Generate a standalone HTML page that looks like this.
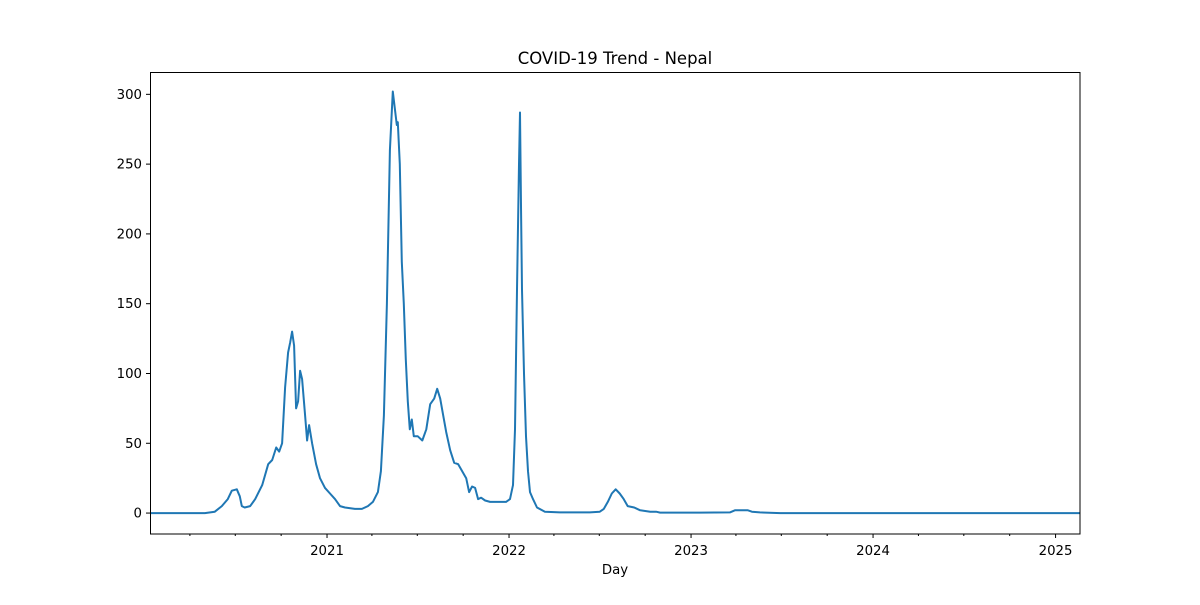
<!DOCTYPE html>
<html><head><meta charset="utf-8"><style>
body{margin:0;background:#fff;width:1200px;height:600px;overflow:hidden}
svg text{font-family:"DejaVu Sans","Liberation Sans",sans-serif;fill:#000}
</style></head><body>
<svg id="c" width="1200" height="600">
<text x="615" y="64" font-size="16.5" text-anchor="middle">COVID-19 Trend - Nepal</text>
<text x="615" y="574" font-size="13.3" text-anchor="middle">Day</text>
<g id="ax"></g>
<rect x="150.5" y="72.5" width="929.5" height="461.5" fill="none" stroke="#000" stroke-width="1"/>
</svg>
<script>
// days since 2020-01-01
const days=[11,121,141,155,167,175,185,191,195,201,212,222,236,248,256,264,270,276,282,288,292,296,300,304,308,312,316,322,326,330,336,344,352,362,372,382,392,402,422,436,448,458,468,474,480,486,492,498,502,506,508,512,516,520,524,528,532,536,540,548,557,565,573,581,587,593,599,605,613,621,629,637,645,651,657,663,669,675,683,693,713,725,733,739,743,747,751,753,755,757,761,765,769,773,779,787,803,833,893,913,921,929,937,945,953,961,969,982,994,1014,1026,1034,1114,1174,1184,1210,1218,1234,1275,1876];
const cases=[0,0,1,5,10,16,17,12,5,4,5,10,20,35,38,47,44,50,90,115,122,130,120,75,80,102,96,70,52,63,50,35,25,18,14,10,5,4,3,3,5,8,15,30,70,150,260,302,290,278,280,250,180,150,110,80,60,67,55,55,52,60,78,82,89,82,70,58,45,36,35,30,25,15,19,18,10,11,9,8,8,8,10,20,60,160,250,287,220,160,100,55,30,15,10,4,1,0.5,0.5,1,3,8,14,17,14,10,5,4,2,1,1,0.3,0.3,0.5,2,2,1,0.5,0,0];
const yTicks=[0,50,100,150,200,250,300];
const yearLabels=["2021","2022","2023","2024","2025"];
const X0=150,X1=1080,D0=11,D1=1876,Y0v=-15,Y1v=316,PB=534,PT=72;
const base=Date.UTC(2020,0,1);
const dayOf=(y,m)=>Math.round((Date.UTC(y,m,1)-base)/864e5);
const sx=d=>X0+(d-D0)/(D1-D0)*(X1-X0);
const sy=v=>PB-(v-Y0v)/(Y1v-Y0v)*(PB-PT);
const ax=document.getElementById('ax');
const NS='http://www.w3.org/2000/svg';
function mk(t,a){const e=document.createElementNS(NS,t);for(const k in a)e.setAttribute(k,a[k]);ax.appendChild(e);return e;}
yTicks.forEach(v=>{
 const l=mk('line',{x1:146,x2:150,y1:sy(v),y2:sy(v),stroke:'#000'});
 
 
 const t=mk('text',{x:142,y:sy(v)+4.5,'font-size':13.3,'text-anchor':'end'});t.textContent=v;
 
 
});
for(let y=2020;y<=2025;y++)for(let m=0;m<12;m+=3){
 const d=dayOf(y,m);if(d<D0||d>D1)continue;const major=m===0;
 const l=mk('line',{x1:sx(d),x2:sx(d),y1:534,y2:major?538:536,stroke:'#000'});
 
 
}
yearLabels.forEach(s=>{
 const d=dayOf(+s,0);
 const t=mk('text',{x:sx(d),y:555,'font-size':13.3,'text-anchor':'middle'});t.textContent=s;
 
 
});
const p=mk('path',{d:days.map((d,i)=>(i?'L':'M')+sx(d).toFixed(1)+','+sy(cases[i]).toFixed(1)).join(''),fill:'none',stroke:'#1f77b4','stroke-width':2,'stroke-linejoin':'round'});


</script>
</body></html>
